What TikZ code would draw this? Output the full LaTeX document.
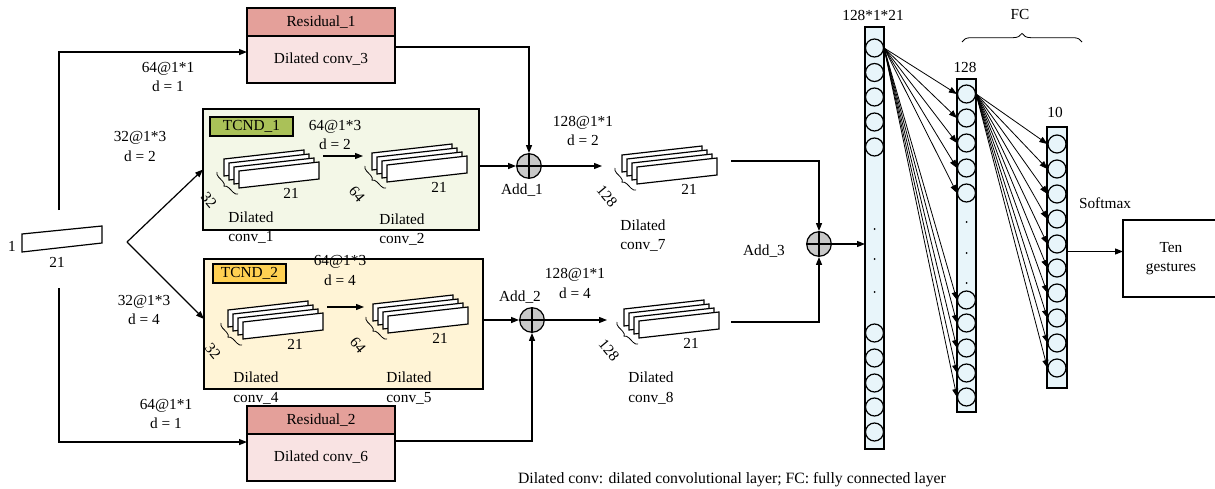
\documentclass[tikz,border=0pt]{standalone}
\usepackage{fontspec}
\setmainfont{Liberation Serif}
\usetikzlibrary{arrows.meta,decorations.pathreplacing}

\definecolor{resHead}{RGB}{228,160,154}
\definecolor{resBody}{RGB}{249,227,227}
\definecolor{tcndOne}{RGB}{243,247,231}
\definecolor{tcndOneTag}{RGB}{170,193,88}
\definecolor{tcndTwo}{RGB}{255,244,214}
\definecolor{tcndTwoTag}{RGB}{255,208,82}
\definecolor{addGray}{RGB}{200,200,200}
\definecolor{fcBlue}{RGB}{232,245,250}

\begin{document}
\begin{tikzpicture}[x=0.75pt,y=0.75pt,yscale=-1,xscale=1,
	line width=0.9pt,
	every node/.style={font=\fontsize{11.5}{14.5}\selectfont,inner sep=0.75pt},
	arr/.style={-{Triangle[length=6pt,width=4.5pt]}},
	block/.style={draw,rectangle,inner sep=0pt,outer sep=0pt},
	lbl/.style={align=center},
	adder/.style={circle,draw,fill=addGray,minimum size=18.5pt,inner sep=0pt,
		path picture={\draw (path picture bounding box.north) -- (path picture bounding box.south) (path picture bounding box.west) -- (path picture bounding box.east);}},
	layer/.style={draw,fill=fcBlue,rectangle,inner sep=0pt,outer sep=0pt,minimum width=14.25pt},
	neuron/.style={circle,draw,fill=fcBlue,minimum size=13.5pt,inner sep=0pt}
	]
	\useasboundingbox (0,0) rectangle (1215,489);
	
	%Shape: Rectangle [Residual_1]
	\node[block,fill=resHead,minimum width=111pt,minimum height=21pt] (res1h) at (321,22) {Residual\_1};
	\node[block,fill=resBody,minimum width=111pt,minimum height=35.25pt] (res1b) at (321,59.5) {Dilated conv\_3};
	%Shape: Rectangle [Residual_2]
	\node[block,fill=resHead,minimum width=111pt,minimum height=21pt] (res2h) at (321,420) {Residual\_2};
	\node[block,fill=resBody,minimum width=111pt,minimum height=35.25pt] (res2b) at (321,457.5) {Dilated conv\_6};
	
	%Shape: Rectangle [TCND_1]
	\node[block,fill=tcndOne,minimum width=207pt,minimum height=90.75pt] (tcnd1) at (341,169.5) {};
	\node[block,fill=tcndOneTag,minimum width=62.25pt,minimum height=14.25pt] (tag1) at (251.5,126.5) {TCND\_1};
	%Shape: Rectangle [TCND_2]
	\node[block,fill=tcndTwo,minimum width=209.25pt,minimum height=97.5pt] (tcnd2) at (343.5,324) {};
	\node[block,fill=tcndTwoTag,minimum width=54.75pt,minimum height=14.25pt] (tag2) at (249.5,273.5) {TCND\_2};
	
	%Shape: Parallelogram [input]
	\draw (22,234) -- (102,226) -- (102,243) -- (22,252) -- cycle;
	\node (in-h) at (12,246) {1};
	\node (in-w) at (57,262) {21};
	
	%Shape: feature map stacks
	\foreach \sx/\sy/\ch/\nm in {239/171/32/s1,387/165/64/s2,243/322/32/s4,388/316/64/s5,637/167/128/s7,639/321/128/s8}{
		\foreach \k in {3,2,1,0}
			\draw[fill=white] (\sx-5*\k,\sy-4*\k) -- ++(80,-9) -- ++(0,17) -- ++(-80,9) -- cycle;
		\draw[line width=0.6pt,decorate,decoration={brace,amplitude=3.5pt}] (\sx-1,\sy+23) -- (\sx-22,\sy+1);
		\node[rotate=-50] (\nm-ch) at (\sx-30,\sy+29) {\ch};
		\node (\nm-w) at (\sx+52,\sy+22) {21};
		\coordinate (\nm-o) at (\sx+84,\sy-15);
		\coordinate (\nm-i) at (\sx-24,\sy-8);
	}
	\coordinate (s7-in) at (602,166);
	\coordinate (s8-in) at (607,320);
	\coordinate (s7-out) at (731,161);
	\coordinate (s8-out) at (731,322);
	
	%Shape: Circle [adders]
	\node[adder] (add1) at (529,166) {};
	\node[adder] (add2) at (532,320) {};
	\node[adder] (add3) at (819,244) {};
	
	%Shape: Rectangle [FC layers]
	\node[layer,minimum height=316.5pt] (col1) at (874.5,238) {};
	\node[layer,minimum height=249.75pt] (col2) at (966.5,245.5) {};
	\node[layer,minimum width=15pt,minimum height=195.75pt] (col3) at (1057,257.5) {};
	\foreach \y [count=\i] in {48,72.5,97,122,147,333,358,383,407,432}
		\node[neuron] (n1-\i) at (874.5,\y) {};
	\foreach \y [count=\i] in {94,118,143,168,193,300,323,348,373,397}
		\node[neuron] (n2-\i) at (966.5,\y) {};
	\foreach \y [count=\i] in {144,169,194,219,244,268,293,318,343,368}
		\node[neuron] (n3-\i) at (1057,\y) {};
	\foreach \y in {229,259,292}
		\fill (874.5,\y) circle (1);
	\foreach \y in {222,253,283}
		\fill (966.5,\y) circle (1);
	
	%Shape: Rectangle [output]
	\node[block,minimum width=72pt,minimum height=57.75pt,align=center] (tg) at (1171,258.5) {Ten\\gestures};
	
	%Straight Lines
	\coordinate (split) at (127,242);
	\coordinate (in-up) at (59,210);
	\coordinate (in-dn) at (59,288);
	\draw[arr] (in-up) |- ([yshift=-5.6pt]res1b.west);
	\draw[arr] (in-dn) |- ([yshift=-11.6pt]res2b.west);
	\draw[arr] (split) -- (tcnd1.west);
	\draw[arr] (split) -- ([yshift=-3.75pt]tcnd2.west);
	\draw[arr] (s1-o) -- (s1-o -| s2-i);
	\draw[arr] (s4-o) -- (s4-o -| s5-i);
	\draw[arr] (tcnd1.east |- add1) -- (add1);
	\draw[arr] ([yshift=-9.4pt]res1b.east) -| (add1);
	\draw[arr] (add1) -- (s7-in);
	\draw[arr] (tcnd2.east |- add2) -- (add2);
	\draw[arr] ([yshift=-12.4pt]res2b.east) -| (add2);
	\draw[arr] (add2) -- (s8-in);
	\draw[arr] (s7-out) -| (add3);
	\draw[arr] (s8-out) -| (add3);
	\draw[arr] (add3) -- (add3 -| col1.west);
	\foreach \i in {1,...,10}{
		\draw[arr,line width=0.6pt] (n1-1.east) -- (n2-\i.west);
		\draw[arr,line width=0.6pt] (n2-1.east) -- (n3-\i.west);
	}
	\draw[arr] ([yshift=-4.5pt]col3.east) -- ([yshift=-4.5pt]col3.east -| tg.west);
	%Shape: Brace [FC]
	\draw[line width=0.6pt,decorate,decoration={brace,amplitude=6.5pt}] (962,42) -- (1082,42);
	
	% Text Node
	\node[lbl] (lab-r1) at (168,77) {64@1*1\\d = 1};
	\node[lbl] (lab-t1) at (140,146.5) {32@1*3\\d = 2};
	\node[lbl] (lab-t2) at (144,310) {32@1*3\\d = 4};
	\node[lbl] (lab-r2) at (166,414) {64@1*1\\d = 1};
	\node[lbl] (lab-c2) at (335,135) {64@1*3\\d = 2};
	\node[lbl] (lab-c5) at (340,270.5) {64@1*3\\d = 4};
	\node[lbl] (lab-c7) at (583,131) {128@1*1\\d = 2};
	\node[lbl] (lab-c8) at (575,283.5) {128@1*1\\d = 4};
	% Text Node
	\node[lbl] (dc1) at (251,227.5) {Dilated\\conv\_1};
	\node[lbl] (dc2) at (402,230) {Dilated\\conv\_2};
	\node[lbl] (dc4) at (256,388) {Dilated\\conv\_4};
	\node[lbl] (dc5) at (409,388) {Dilated\\conv\_5};
	\node[lbl] (dc7) at (643,235.5) {Dilated\\conv\_7};
	\node[lbl] (dc8) at (651,388) {Dilated\\conv\_8};
	% Text Node
	\node (add1-t) at (522,190) {Add\_1};
	\node (add2-t) at (520,297) {Add\_2};
	\node (add3-t) at (764,251) {Add\_3};
	\node (col1-t) at (873,15) {128*1*21};
	\node (col2-t) at (965,67) {128};
	\node (col3-t) at (1055,112) {10};
	\node (fc-t) at (1020,14) {FC};
	\node (soft-t) at (1105,203) {Softmax};
	\node[font=\fontsize{11.8}{14}\selectfont] (cap) at (732,480) {Dilated conv: dilated convolutional layer; FC: fully connected layer};
	
\end{tikzpicture}
\end{document}
